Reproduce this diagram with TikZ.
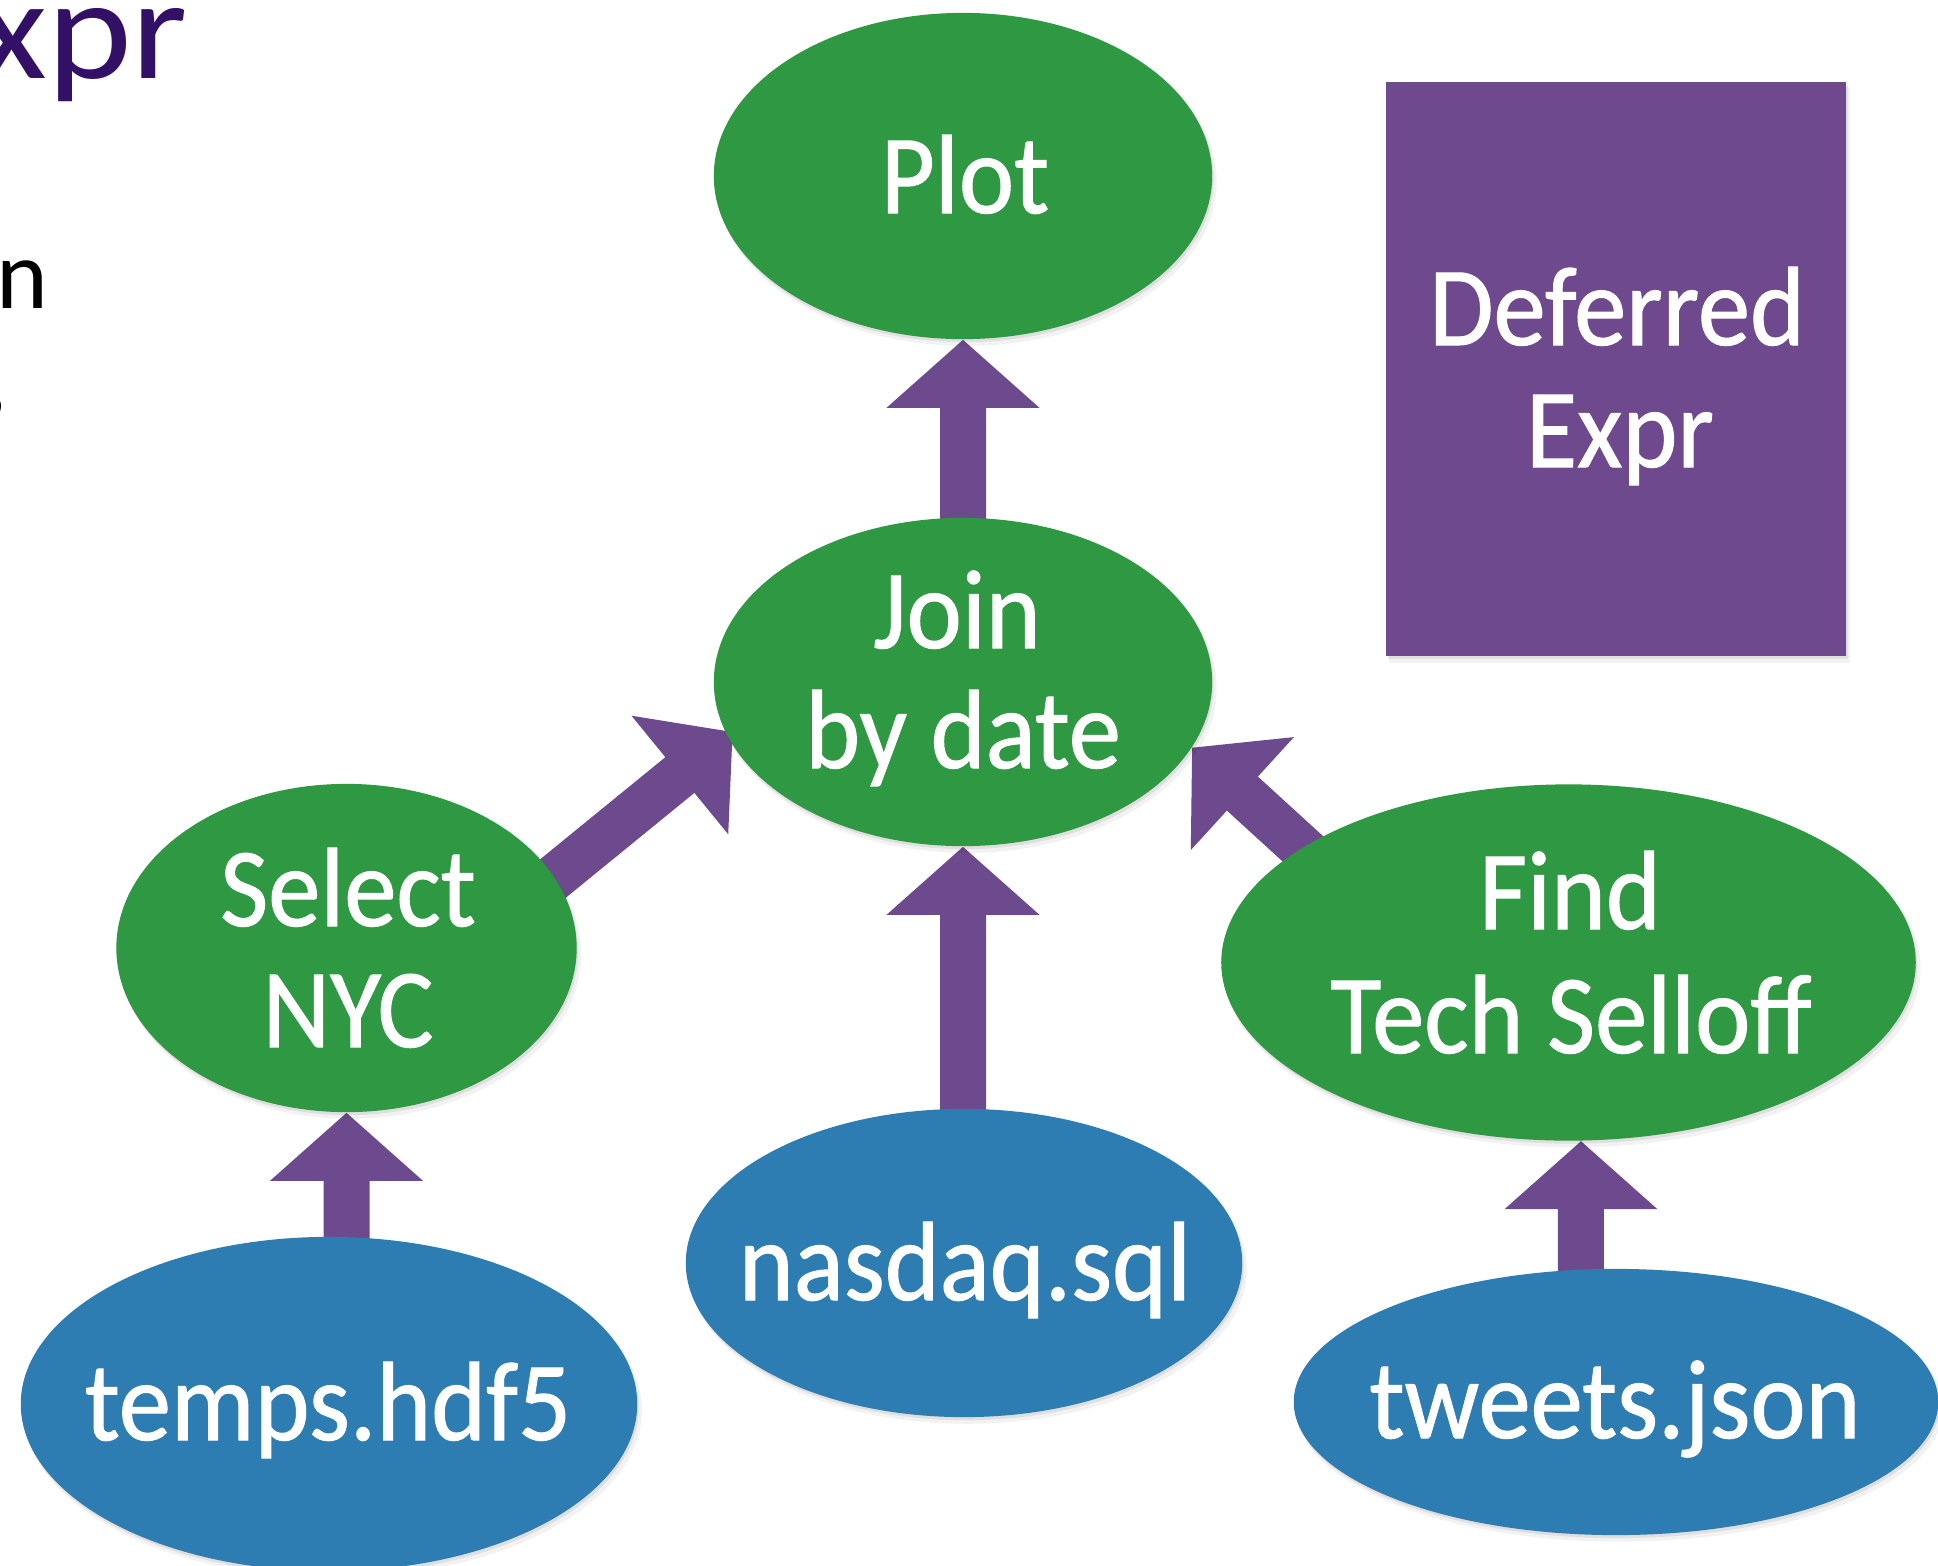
\documentclass[tikz,border=0pt]{standalone}
\usepackage{fontspec}
\setmainfont{Carlito}[FakeStretch=0.93, FakeBold=0.9]
\newfontfamily\titlefont{Carlito}[FakeStretch=1.12]
\newfontfamily\bodyfont{Carlito}
\usetikzlibrary{shapes.geometric,calc,shadows}

\definecolor{nodegreen}{RGB}{47,152,67}
\definecolor{nodeblue}{RGB}{46,125,178}
\definecolor{arrowpurple}{RGB}{109,74,141}
\definecolor{boxpurple}{RGB}{111,73,142}
\definecolor{titlepurple}{RGB}{50,16,102}

\pgfdeclarelayer{paper}
\pgfdeclarelayer{under}
\pgfsetlayers{paper,under,main}

% block arrow from #1 (tail) to #2 (tip): shaft 46, head 153 wide, 68 long
\newcommand\blockarrow[2]{%
  \fill[arrowpurple] let \p1=($(#2)-(#1)$), \n1={atan2(\y1,\x1)} in
    ($(#1)+(\n1+90:23)$)
    -- ($(#2)+(\n1+180:68)+(\n1+90:23)$)
    -- ($(#2)+(\n1+180:68)+(\n1+90:76.5)$)
    -- (#2)
    -- ($(#2)+(\n1+180:68)+(\n1-90:76.5)$)
    -- ($(#2)+(\n1+180:68)+(\n1-90:23)$)
    -- ($(#1)+(\n1-90:23)$) -- cycle;}

\tikzset{
  softshadow/.style={
      general shadow={fill=black, opacity=0.05,
        shadow xshift=0.035cm, shadow yshift=-0.06cm, shadow scale=1.004},
      general shadow={fill=black, opacity=0.08,
        shadow xshift=0.015cm, shadow yshift=-0.03cm}},
  oval/.style 2 args={ellipse, inner sep=0pt, draw=none,
      minimum width=#1*0.02cm, minimum height=#2*0.02cm, softshadow},
  lbl/.style={text=white, inner sep=0pt, anchor=base,
      font=\fontsize{32}{38}\selectfont},
}

\begin{document}
\begin{tikzpicture}[x=0.01cm, y=0.01cm]
\useasboundingbox (0,0) rectangle (1938,-1566);
\begin{pgfonlayer}{paper}
  \fill[white] (0,0) rectangle (1938,-1566);
\end{pgfonlayer}
\clip (0,0) rectangle (1938,-1566);

% slide remnants at the left edge
\node[anchor=base east, inner sep=0pt, text=titlepurple,
      font=\titlefont\fontsize{41}{44}\selectfont] (title) at (189,-78) {xpr};
\node[anchor=base east, inner sep=0pt,
      font=\bodyfont\fontsize{28}{30}\selectfont] (bullet1) at (49,-308) {n};
\node[anchor=base east, inner sep=0pt,
      font=\bodyfont\fontsize{28}{30}\selectfont] (bullet2) at (8.5,-410) {,};

% operations (green) and data sources (blue)
\node[oval={249}{163}, fill=nodegreen] (plot)   at (963,-176)     {};
\node[oval={249}{164}, fill=nodegreen] (join)   at (963,-682)     {};
\node[oval={230}{164}, fill=nodegreen] (sel)    at (346.5,-948)   {};
\node[oval={347}{178}, fill=nodegreen] (find)   at (1568.5,-962.5){};
\node[oval={308}{167}, fill=nodeblue]  (temps)  at (329,-1404)    {};
\node[oval={278}{154}, fill=nodeblue]  (nasdaq) at (964,-1263)    {};
\node[oval={322}{133}, fill=nodeblue]  (tweets) at (1616,-1402)   {};

% legend box
\node[rectangle, inner sep=0pt, fill=boxpurple, softshadow,
      minimum width=460*0.01cm, minimum height=574*0.01cm]
      (deferred) at (1616,-369) {};

% labels
\node[lbl] (plot-l)   at (965,-213)   {Plot};
\node[lbl] (join-l1)  at (957,-648)   {Join};
\node[lbl] (join-l2)  at (963,-768)   {by date};
\node[lbl] (sel-l1)   at (348,-926)   {Select};
\node[lbl] (sel-l2)   at (348,-1047)  {NYC};
\node[lbl] (find-l1)  at (1570,-929)  {Find};
\node[lbl] (find-l2)  at (1571,-1053) {Tech Selloff};
\node[lbl] (temps-l)  at (328,-1440)  {temps.hdf5};
\node[lbl] (nasdaq-l) at (965,-1300)  {nasdaq.sql};
\node[lbl] (tweets-l) at (1615,-1438) {tweets.json};
\node[lbl] (def-l1)   at (1617,-345)  {Deferred};
\node[lbl] (def-l2)   at (1620,-467)  {Expr};

% arrow end points
\coordinate (a1tail) at (plot.south |- join.center);
\coordinate (a2tail) at (join.south |- nasdaq.center);
\coordinate (a3tail) at (sel.south |- temps.center);
\coordinate (a4tip)  at (find.-86.3);
\coordinate (a4tail) at (a4tip |- tweets.center);
\coordinate (a5tip)  at ($(join.193.5)+(39.2:7)$);
\coordinate (a5tail) at ($(a5tip)+(219.2:300)$);
\coordinate (a6tip)  at (join.-16.7);
\coordinate (a6tail) at ($(a6tip)+(-42.4:300)$);

\begin{pgfonlayer}{under}
  \blockarrow{a1tail}{plot.south}
  \blockarrow{a2tail}{join.south}
  \blockarrow{a3tail}{sel.south}
  \blockarrow{a4tail}{a4tip}
  \blockarrow{a5tail}{a5tip}
  \blockarrow{a6tail}{a6tip}
\end{pgfonlayer}
\end{tikzpicture}
\end{document}
